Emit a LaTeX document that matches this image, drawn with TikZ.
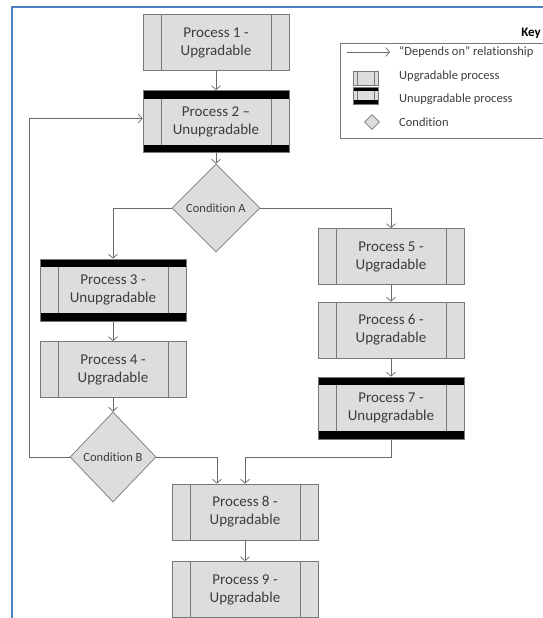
\documentclass[tikz,border=0pt]{standalone}
\usepackage{fontspec}
\setmainfont{Carlito}[Ligatures=NoCommon]
\usetikzlibrary{arrows.meta}
\usetikzlibrary{shapes.geometric}

\definecolor{framebl}{RGB}{79,129,189}
\definecolor{boxgray}{RGB}{120,120,120}
\definecolor{boxfill}{RGB}{221,221,221}
\definecolor{linegray}{RGB}{105,105,105}
\definecolor{txtgray}{RGB}{60,60,60}

\begin{document}
\begin{tikzpicture}[x=1pt,y=-1pt,
  boxline/.style={draw=boxgray,line width=0.7pt},
  procbox/.style={boxline,fill=boxfill,text=txtgray,align=center,inner sep=0pt,
    minimum width=146pt,minimum height=56pt,font=\fontsize{15}{18}\selectfont},
  upgrbox/.style={procbox,path picture={
      \draw[boxline] ([xshift=#1]path picture bounding box.south west)
                  -- ([xshift=#1]path picture bounding box.north west);
      \draw[boxline] ([xshift=-#1]path picture bounding box.south east)
                  -- ([xshift=-#1]path picture bounding box.north east);}},
  unupgrbox/.style 2 args={procbox,minimum height=62pt,path picture={
      \draw[boxline] ([xshift=#1]path picture bounding box.south west)
                  -- ([xshift=#1]path picture bounding box.north west);
      \draw[boxline] ([xshift=-#1]path picture bounding box.south east)
                  -- ([xshift=-#1]path picture bounding box.north east);
      \fill[black] (path picture bounding box.north west)
                   rectangle ([yshift=-#2]path picture bounding box.north east);
      \fill[black] (path picture bounding box.south west)
                   rectangle ([yshift=#2]path picture bounding box.south east);}},
  upgr/.style={upgrbox=18pt},
  unupgr/.style={unupgrbox={18pt}{8pt}},
  cond/.style={diamond,aspect=1,boxline,fill=boxfill,text=txtgray,inner sep=0pt,
    minimum width=88pt,minimum height=88pt,font=\fontsize{12.5}{14}\selectfont},
  dep/.style={draw=linegray,line width=0.7pt,arrows={-Straight Barb[length=4pt,width=9pt]}},
  keytext/.style={anchor=west,text=txtgray,inner sep=0pt,font=\fontsize{12.5}{14}\selectfont}]

  \useasboundingbox (0,0) rectangle (543,618);
  \clip (0,0) rectangle (543,618);

  %% the blue frame
  \draw[framebl,line width=2pt] (12,618) -- (12,7) -- (543,7);

  %% processes and conditions
  \node[upgr]   (P1) at (216,42.5)  {Process 1 -\\Upgradable};
  \node[unupgr] (P2) at (216,121.5) {Process 2 –\\Unupgradable};
  \node[cond]   (CA) at (216,208)   {Condition A};
  \node[unupgr] (P3) at (113,290)   {Process 3 -\\Unupgradable};
  \node[upgr]   (P4) at (113,369.5) {Process 4 -\\Upgradable};
  \node[upgr]   (P5) at (391,256.5) {Process 5 -\\Upgradable};
  \node[upgr]   (P6) at (391,330)   {Process 6 -\\Upgradable};
  \node[unupgr] (P7) at (391,408)   {Process 7 -\\Unupgradable};
  \node[cond,minimum height=90pt,minimum width=86pt] (CB) at (113,457) {Condition B};
  \node[upgr]   (P8) at (245,512)   {Process 8 -\\Upgradable};
  \node[upgr]   (P9) at (245,589.5) {Process 9 -\\Upgradable};

  %% straight dependencies
  \foreach \myfrom/\myto in {P1/P2,P2/CA,P3/P4,P4/CB,P5/P6,P6/P7,P8/P9}
  {
    \draw[dep] (\myfrom) -- (\myto);
  }

  %% branches of the conditions
  \draw[dep] (CA.west) -| (P3.north);
  \draw[dep] (CA.east) -| (P5.north);
  \draw[dep] (CB.east) -| ([xshift=-28pt]P8.north);
  \draw[dep] (P7.south) -- ++(0,18) -| (P8.north);

  %% loop back to process 2
  \coordinate (back) at (29,0);
  \draw[dep] (CB.west) -- (CB.west -| back) |- ([yshift=3pt]P2.west);

  %% the key
  \node[anchor=east,inner sep=0pt,text=black,font=\fontsize{13}{15}\selectfont\bfseries]
    (keytitle) at (541,33) {Key};
  \draw[boxline] (340,43) rectangle (560,138);

  \coordinate (keyarr/w) at (347,52);
  \coordinate (keyarr/e) at (390,52);
  \draw[dep] (keyarr/w) -- (keyarr/e);
  \node[keytext] (keydep) at (399,52) {“Depends on” relationship};

  \node[upgrbox=4pt,minimum width=25pt,minimum height=14pt] (keyupgr) at (365.5,78) {};
  \node[keytext] (keyupgrtxt) at (399,76) {Upgradable process};

  \node[unupgrbox={4pt}{4pt},minimum width=25pt,minimum height=17pt] (keyunupgr) at (365.5,95.5) {};
  \node[keytext] (keyunupgrtxt) at (399,99) {Unupgradable process};

  \node[cond,minimum width=15pt,minimum height=15pt] (keycond) at (372,122) {};
  \node[keytext] (keycondtxt) at (399,122) {Condition};

\end{tikzpicture}
\end{document}
